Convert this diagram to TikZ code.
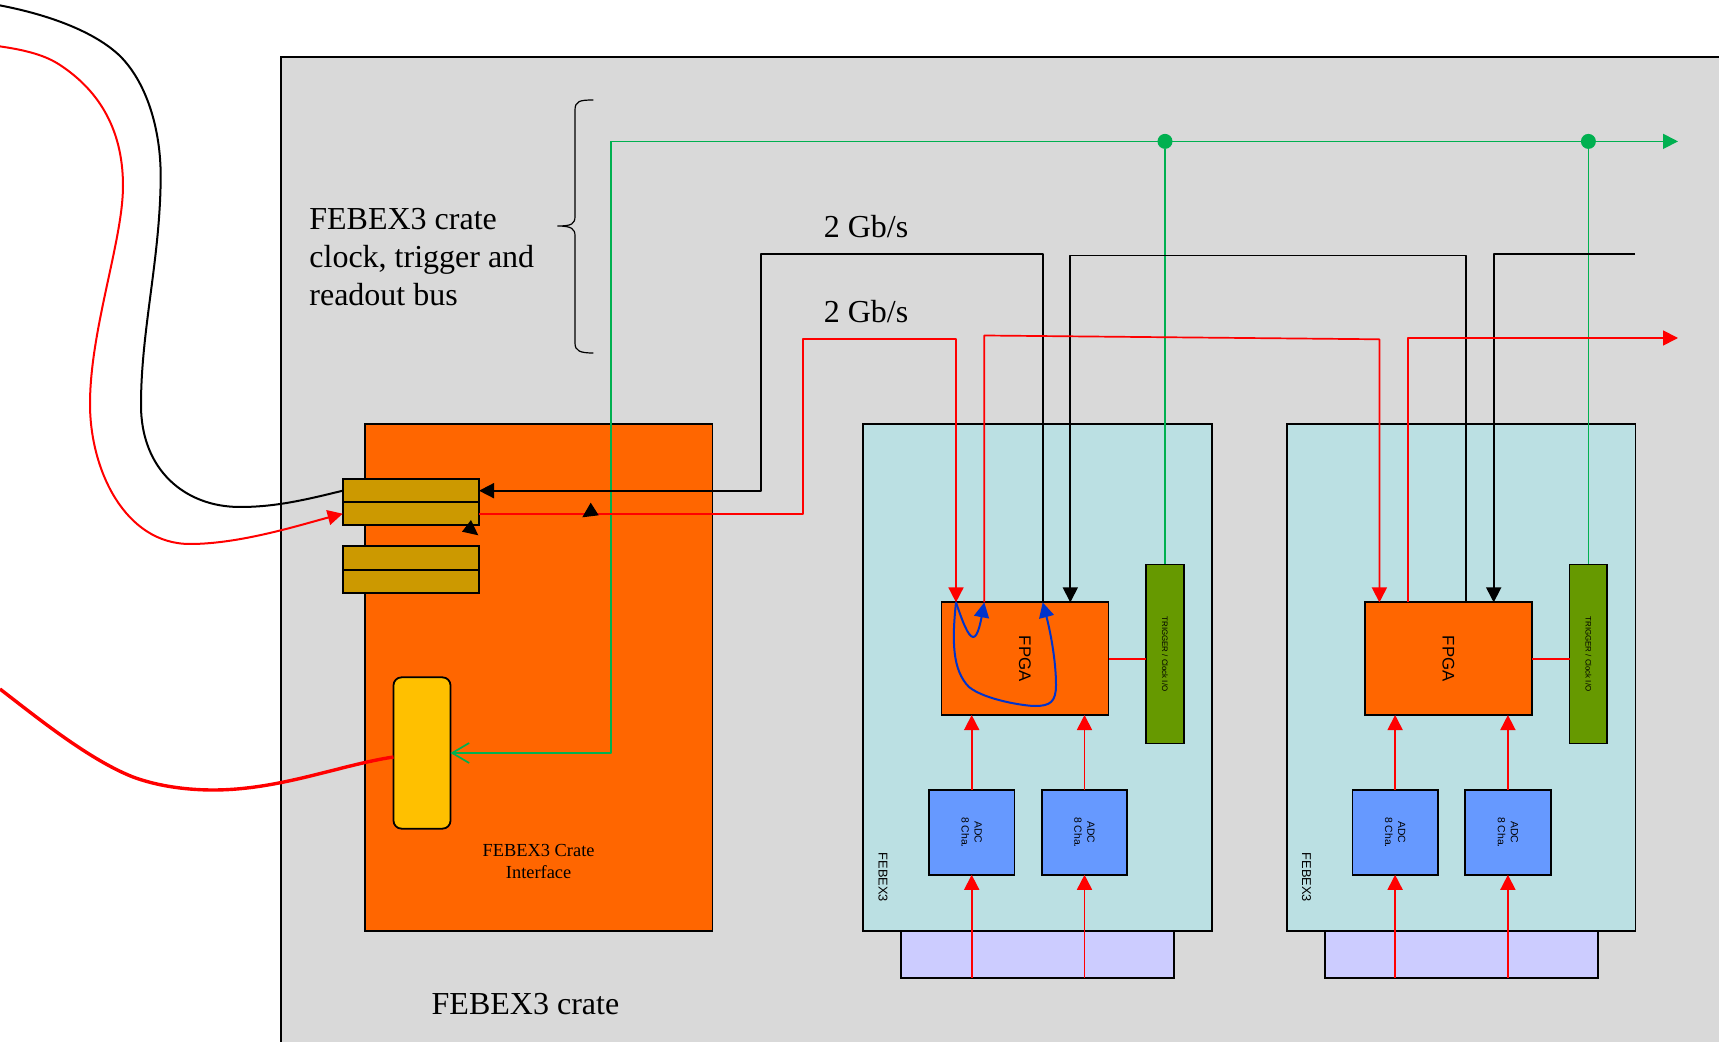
\documentclass[tikz,border=0pt]{standalone}
\usepackage{fontspec}
\setmainfont{Liberation Serif}
\setsansfont{Liberation Sans}
\usetikzlibrary{arrows.meta}
\definecolor{crategray}{HTML}{D9D9D9}
\definecolor{ifaceorange}{HTML}{FF6600}
\definecolor{boardcyan}{HTML}{BBE0E3}
\definecolor{sfpgold}{HTML}{CC9900}
\definecolor{slotyellow}{HTML}{FFC000}
\definecolor{adcblue}{HTML}{6699FF}
\definecolor{trigolive}{HTML}{669900}
\definecolor{pluglilac}{HTML}{CCCCFF}
\definecolor{busgreen}{HTML}{00B050}
\definecolor{loopblue}{HTML}{0033CC}
\begin{document}
\begin{tikzpicture}[x=0.5pt,y=-0.5pt,
    box/.style 2 args={draw,line width=0.9pt,inner sep=0pt,outer sep=0pt,minimum width=#1*0.5pt,minimum height=#2*0.5pt},
    tip/.style={-{Triangle[length=7.5pt,width=7.5pt]}},
    wire/.style={line width=0.85pt,line join=round},
    bigtext/.style={font=\fontsize{16}{19}\selectfont,align=left,inner sep=0pt},
    sideways/.style={rotate=-90,font=\sffamily,inner sep=0pt,align=center}]
  \useasboundingbox (0,0) rectangle (1719,1042);
  \clip (0,0) rectangle (1719,1042);
  \node[box={1479}{1043},fill=crategray] (crate) at (1020.5,578.5) {};
  \node[box={347.7}{507},fill=ifaceorange] (iface) at (538.6,677.2) {};
  \node[box={136.3}{23},fill=sfpgold] (sfpA) at (410.85,490.7) {};
  \node[box={136.3}{23},fill=sfpgold] (sfpB) at (410.85,513.7) {};
  \node[box={136.3}{23.3},fill=sfpgold] (sfpC) at (410.85,558) {};
  \node[box={136.3}{23.3},fill=sfpgold] (sfpD) at (410.85,581.3) {};
  \node[box={57}{151.3},fill=slotyellow,rounded corners=4pt] (slot) at (422,753) {};
  \node[font=\fontsize{9.2}{11}\selectfont,align=center,inner sep=0pt] (ifacetxt) at (538.6,861) {FEBEX3 Crate\\Interface};
  \node[bigtext,anchor=west] (busntxt) at (309,257) {FEBEX3 crate\\clock, trigger and\\readout bus};
  \node[bigtext,anchor=base west] (cratetxt) at (431.3,1014) {FEBEX3 crate};
  \node[bigtext,anchor=base west] (ratetop) at (823.4,238) {2 Gb/s};
  \node[bigtext,anchor=base west] (ratebot) at (823.4,322.5) {2 Gb/s};
  \foreach \nm/\dx in {a/0,b/423.4} {
    \begin{scope}[shift={(\dx,0)}]
      \node[box={273}{47},fill=pluglilac] (\nm plug) at (1037.8,954.4) {};
      \node[box={348.7}{507},fill=boardcyan] (\nm board) at (1037.65,677.2) {};
      \node[box={167}{112.6},fill=ifaceorange] (\nm fpga) at (1025,658.7) {};
      \node[box={37.7}{179},fill=trigolive] (\nm trig) at (1165,654) {};
      \node[box={85.4}{84.6},fill=adcblue] (\nm adcl) at (971.7,832.5) {};
      \node[box={85.4}{84.6},fill=adcblue] (\nm adcr) at (1084.5,832.5) {};
      \node[sideways,font=\sffamily\fontsize{8.4}{9}\selectfont] (\nm fpgatxt) at (\nm fpga) {FPGA};
      \node[sideways,font=\sffamily\fontsize{3.95}{5}\selectfont] (\nm trigtxt) at (\nm trig) {TRIGGER / Clock I/O};
      \node[sideways,font=\sffamily\fontsize{5.2}{6.5}\selectfont] (\nm adcltxt) at (\nm adcl) {ADC\\8 Cha.};
      \node[sideways,font=\sffamily\fontsize{5.2}{6.5}\selectfont] (\nm adcrtxt) at (\nm adcr) {ADC\\8 Cha.};
      \node[sideways,font=\sffamily\fontsize{6.4}{8}\selectfont] (\nm febex) at (883,877.3) {FEBEX3};
      \coordinate (\nm redin) at (956,602.4);
      \coordinate (\nm redout) at (984.3,602.4);
      \coordinate (\nm blkout) at (1042.7,602.4);
      \coordinate (\nm blkin) at (1070.3,602.4);
      \draw[wire,red,tip] (\nm adcl.south |- \nm plug.south) -- (\nm adcl.south);
      \draw[wire,red,tip] (\nm adcr.south |- \nm plug.south) -- (\nm adcr.south);
      \draw[wire,red,tip] (\nm adcl.north) -- (\nm adcl.north |- \nm fpga.south);
      \draw[wire,red,tip] (\nm adcr.north) -- (\nm adcr.north |- \nm fpga.south);
      \draw[wire,red] (\nm fpga.east) -- (\nm fpga.east -| \nm trig.west);
    \end{scope}
  }
  \coordinate (busstart) at (611.2,141.4);
  \coordinate (busend) at (1678,141.4);
  \coordinate (blkbend) at (761,254);
  \coordinate (blkmid) at (1070.3,255.5);
  \coordinate (blkend) at (1635,253.7);
  \coordinate (redbend) at (803,339.3);
  \coordinate (redmid) at (984.3,335.5);
  \coordinate (redstart) at (1407.3,338);
  \coordinate (redend) at (1678,338);
  \node[circle,fill=busgreen,inner sep=0pt,minimum size=7.5pt] (dota) at (atrig.north |- busstart) {};
  \node[circle,fill=busgreen,inner sep=0pt,minimum size=7.5pt] (dotb) at (btrig.north |- busstart) {};
  \draw[wire,busgreen,tip] (busstart) -- (busend);
  \draw[wire,busgreen,-{Straight Barb[length=8.5pt,width=10pt]}] (busstart) |- (slot.east);
  \draw[wire,busgreen] (dota) -- (atrig.north);
  \draw[wire,busgreen] (dotb) -- (btrig.north);
  \draw[wire,black,tip] (ablkout) |- (blkbend) |- (sfpA.east);
  \draw[wire,black,tip] (bblkout) |- (blkmid) -- (ablkin);
  \draw[wire,black,tip] (blkend) -| (bblkin);
  \draw[wire,red,tip] (sfpB.east) -| (redbend) -| (aredin);
  \draw[wire,red,tip] (aredout) -- (redmid) -- (bredin |- redbend) -- (bredin);
  \draw[wire,red,tip] (bredout) -- (bredout |- redstart) -- (redend);
  \draw[wire,loopblue,line width=1pt,tip] (aredin) .. controls (962,620) and (968,637) .. (973.3,637) .. controls (978,637) and (981,620) .. (aredout);
  \draw[wire,loopblue,line width=1pt,tip] (aredin) .. controls (952,640) and (952,670) .. (969,687) .. controls (985,700) and (1025,706) .. (1035,706) .. controls (1050,706) and (1056,702) .. (1056,685) .. controls (1056,660) and (1050,630) .. (ablkout);
  \draw[line width=1pt] (0,5.4) .. controls (50,15) and (95,32) .. (120,56) .. controls (147,83) and (161,130) .. (160.7,178) .. controls (160,260) and (141,330) .. (141,405) .. controls (141,470) and (185,507) .. (240,507) .. controls (275,507) and (305,500) .. (sfpA.west);
  \draw[line width=1pt,red,tip] (0,46.4) .. controls (25,50) and (45,55) .. (60,65) .. controls (95,88) and (123,125) .. (123,186) .. controls (123,240) and (90,330) .. (90,404) .. controls (90,470) and (125,544) .. (190,544) .. controls (240,544) and (300,525) .. (sfpB.west);
  \draw[line width=1.7pt,red] (0,689) .. controls (40,720) and (90,760) .. (133,777) .. controls (160,787) and (190,790) .. (213,790) .. controls (280,790) and (340,765) .. ([yshift=-2pt]slot.west);
  \draw[line width=0.6pt] (593.3,100) .. controls (580,100) and (575,101) .. (575,110) -- (575,216) .. controls (575,224) and (572,226) .. (557.3,226) .. controls (572,226) and (575,229) .. (575,236) -- (575,343) .. controls (575,351) and (580,353) .. (593.3,353);
  \fill (590.7,502.7) -- (582.3,517.3) -- (598.7,515.3) -- cycle;
  \fill (471,520) -- (462,531.7) -- (478.3,535.3) -- cycle;
\end{tikzpicture}
\end{document}
